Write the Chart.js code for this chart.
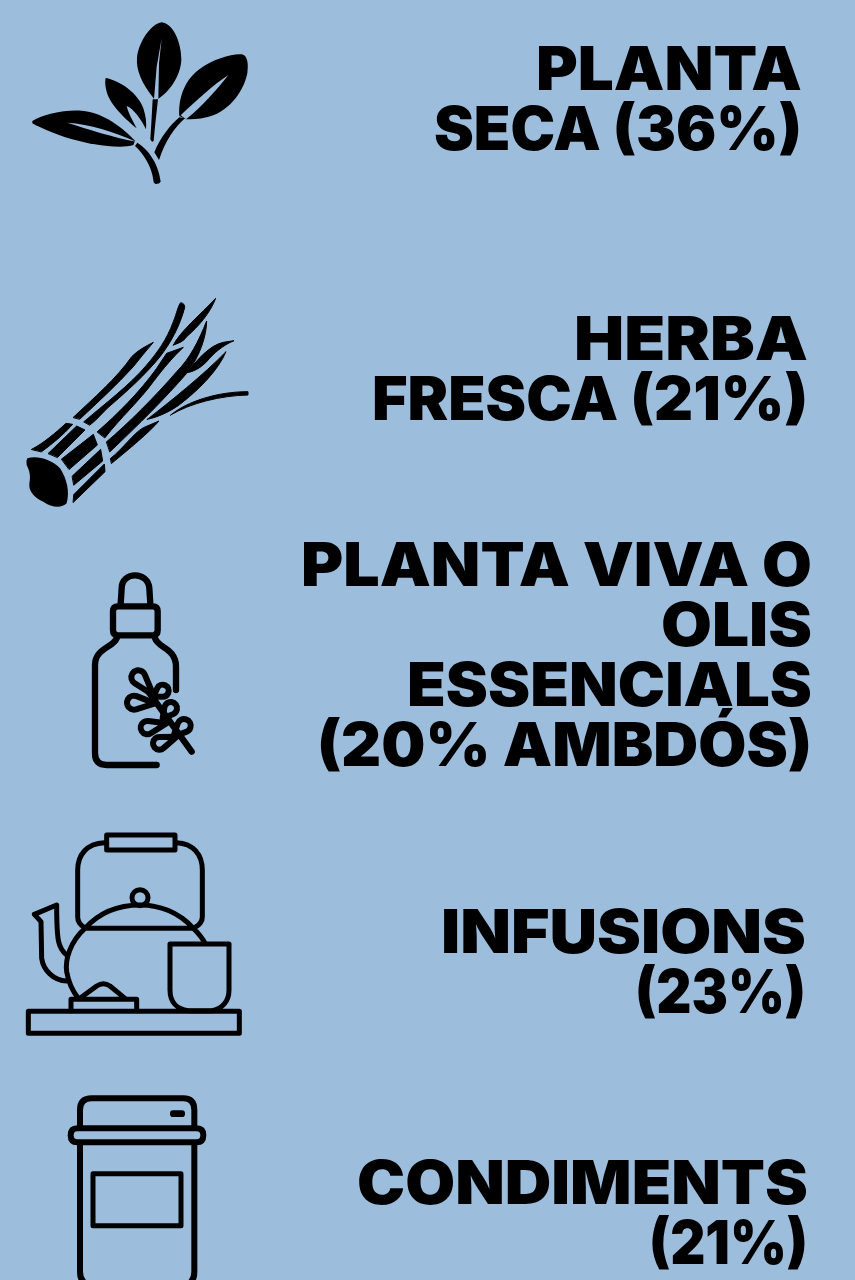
<!DOCTYPE html>
<html lang="ca">
<head>
  <meta charset="UTF-8" />
  <title>Formats de planta</title>
  <script src="https://cdn.jsdelivr.net/npm/chart.js"></script>
  <style>
    html, body { margin: 0; padding: 0; background: #9dbddd; overflow: hidden; }
    canvas { display: block; }
  </style>
</head>
<body>
  <canvas id="usesChart" width="855" height="1280"></canvas>

  <script>
  // data
  const categories = ['Planta seca', 'Herba fresca', 'Planta viva o olis essencials', 'Infusions', 'Condiments'];
  const shares = [36, 21, 20, 23, 21];
  const labelLines = [
    ['PLANTA', 'SECA (36%)'],
    ['HERBA', 'FRESCA (21%)'],
    ['PLANTA VIVA O', 'OLIS', 'ESSENCIALS', '(20% AMBDÓS)'],
    ['INFUSIONS', '(23%)'],
    ['CONDIMENTS', '(21%)']
  ];

  // layout, per row. Montserrat is not installed so each line is stretched to its measured width
  const rowRight = [802, 808, 812, 806, 808];
  const rowBaseline = [-38, -24, -54, 57, 52];
  const lineWidths = [
    [266, 368],
    [234, 436],
    [511, 151, 405, 495],
    [365, 171],
    [451, 159]
  ];
  const ICON_X = 137;
  const LINE_H = 60;

  function rowCentre(i) { return 128 + 256 * i; }

  // each icon is drawn in zoomed reference coords, (ox, oy) is the zoom origin
  function iconCanvas(i, ox, oy, draw) {
    const c = document.createElement('canvas');
    c.width = 320;
    c.height = 420;
    const g = c.getContext('2d');
    g.translate(160 - ICON_X + ox, 210 - rowCentre(i) + oy);
    g.scale(1 / 3, 1 / 3);
    g.fillStyle = '#000';
    g.strokeStyle = '#000';
    g.lineCap = 'round';
    g.lineJoin = 'round';
    draw(g);
    return c;
  }

  function fillAll(g, paths) { paths.forEach(p => g.fill(new Path2D(p))); }
  function strokeAll(g, paths) { paths.forEach(p => g.stroke(new Path2D(p))); }

  function teardrop(g, bx, by, cx, cy, r) {
    const a = Math.atan2(by - cy, bx - cx);
    const h = Math.acos(r / Math.hypot(bx - cx, by - cy));
    g.beginPath();
    g.moveTo(bx, by);
    g.arc(cx, cy, r, a + h, a - h);
    g.closePath();
    g.stroke();
  }

  const icons = [
    iconCanvas(0, 10, 10, g => {
      fillAll(g, [
        'M432,266 C395,220 378,180 381,145 C385,95 425,40 455,37 C490,40 515,100 514,150 C512,195 480,245 445,266 Z',
        'M508,318 C505,270 520,215 565,180 C610,145 670,130 695,133 C715,137 715,165 712,190 C700,250 650,310 590,322 C565,328 545,328 528,328 Z',
        'M287,204 C330,212 385,250 400,295 C408,320 410,340 408,358 C395,330 370,295 350,288 C355,310 370,335 380,355 C350,330 300,285 290,245 C285,225 285,215 287,204 Z',
        'M67,333 C100,312 165,298 215,302 C280,308 335,350 375,392 L370,405 C360,408 345,410 330,410 C230,410 120,370 67,340 Z'
      ]);
      g.globalCompositeOperation = 'destination-out';
      fillAll(g, [
        'M455,85 L447,160 L445,268 L432,268 L440,170 Z',
        'M655,195 C610,225 560,270 512,316 L528,328 C575,290 620,240 655,195 Z',
        'M172,338 C240,342 310,365 378,395 C310,382 235,358 172,338 Z'
      ]);
      g.globalCompositeOperation = 'source-over';
      fillAll(g, [
        'M428,268 L444,268 L436,340 L431,392 Q426,400 421,388 L424,340 Z',
        'M508,322 L525,325 C495,350 465,395 447,450 L433,427 C450,385 480,345 508,322 Z',
        'M382,398 C410,415 445,455 452,515 Q448,522 438,522 Q430,520 430,510 C425,470 400,430 375,408 Z'
      ]);
    }),
    iconCanvas(1, 10, 285, g => {
      const blades = [
        'M65,493 C100,475 135,445 168,415 L188,418 C160,450 125,478 95,500 Z',
        'M115,505 L200,423 L225,435 L143,517 Z',
        'M155,522 L250,448 L262,480 L178,553 Z',
        'M187,573 L272,493 L278,528 L192,600 Z',
        'M192,628 L283,537 L285,560 L190,652 Z',
        'M190,397 C250,340 320,280 365,215 C385,195 405,185 430,172 C410,195 390,220 370,245 C320,300 260,355 210,402 Z',
        'M222,410 C280,360 360,300 410,240 C440,205 470,165 490,110 C500,85 505,60 512,53 Q525,55 524,68 C510,120 485,170 450,215 C410,265 350,320 297,365 C280,380 260,405 240,420 Z',
        'M262,440 C320,390 390,320 440,250 L470,205 L520,187 C490,215 460,250 430,290 C390,345 330,400 285,458 Z',
        'M490,180 C510,140 570,90 617,40 C600,85 565,125 530,155 C520,170 505,175 490,180 Z',
        'M290,470 C350,420 440,330 500,260 C540,220 565,170 590,108 C590,150 570,215 530,265 C470,335 385,420 300,500 Z',
        'M532,263 C560,225 600,180 640,172 L672,167 C640,180 610,205 590,230 C570,250 550,260 532,263 Z',
        'M412,403 C480,350 580,270 648,200 C625,255 570,310 520,350 C490,375 450,395 412,403 Z',
        'M482,390 C530,350 620,320 714,320 L714,330 C630,332 540,355 482,390 Z',
        'M302,520 C340,490 370,445 400,428 L447,408 C420,440 360,490 305,535 Z'
      ];
      fillAll(g, blades);
      g.lineWidth = 3;
      strokeAll(g, blades);
      fillAll(g, ['M52,520 C80,512 120,520 150,550 C170,580 180,620 170,655 C155,670 125,668 100,650 C75,640 55,620 58,595 C62,575 60,560 50,540 Q47,528 52,520 Z']);
    }),
    iconCanvas(2, 70, 560, g => {
      g.lineWidth = 19;
      strokeAll(g, [
        'M152,132 L155,85 C155,33 235,33 238,85 L241,132',
        'M144,139 L248,139 Q263,139 263,154 L263,211 Q263,226 248,226 L144,226 Q129,226 129,211 L129,154 Q129,139 144,139 Z',
        'M140,235 C130,262 75,265 75,315 L75,580 Q75,615 110,615 L260,615',
        'M255,235 C265,265 318,265 318,320 L318,390',
        'M365,575 L235,395'
      ]);
      g.lineWidth = 18;
      teardrop(g, 250, 405, 205, 352, 21);
      teardrop(g, 250, 410, 278, 392, 18);
      teardrop(g, 255, 430, 192, 428, 21);
      teardrop(g, 278, 475, 302, 445, 19);
      teardrop(g, 290, 490, 232, 503, 20);
      teardrop(g, 310, 530, 342, 497, 20);
      teardrop(g, 320, 530, 268, 550, 19);
    }),
    iconCanvas(3, 15, 820, g => {
      g.lineWidth = 15;
      strokeAll(g, [
        'M275,45 L480,45 L480,90 L275,90 Z',
        'M268,68 C215,70 188,105 188,150 L188,290 Q188,310 208,322',
        'M485,68 C535,70 562,105 562,150 L562,290 Q562,310 540,322',
        'M210,325 C260,270 320,255 375,255 C430,255 490,275 535,325 Z',
        'M210,325 C165,365 150,420 155,455 C160,485 170,510 190,535',
        'M535,325 C550,340 560,350 570,370',
        'M155,405 C130,385 125,365 125,255 L58,283 L78,305 L80,415 C85,450 115,482 155,483',
        'M465,372 L642,372 L642,510 C642,545 620,568 590,572 L520,572 C485,568 465,545 465,510 Z',
        'M40,574 L673,574 L673,640 L40,640 Z',
        'M168,572 L168,538 L365,538 L365,572',
        'M195,535 L245,498 Q265,485 285,498 L330,535'
      ]);
      g.beginPath();
      g.arc(375, 233, 24, 0, Math.PI * 2);
      g.stroke();
    }),
    iconCanvas(4, 55, 1085, g => {
      g.lineWidth = 18;
      strokeAll(g, [
        'M75,125 L75,75 Q75,40 110,40 L385,40 Q418,40 418,75 L418,125',
        'M67,130 L425,130 Q445,130 445,151 Q445,172 425,172 L67,172 Q47,172 47,151 Q47,130 67,130 Z',
        'M75,175 L75,560 Q75,600 115,600 L380,600 Q418,600 418,560 L418,175'
      ]);
      g.lineWidth = 15;
      g.stroke(new Path2D('M114,266 L378,266 L378,422 L114,422 Z'));
      g.fill(new Path2D('M354,76 L381,76 Q390,76 390,86 Q390,96 381,96 L354,96 Q345,96 345,86 Q345,76 354,76 Z'));
    })
  ];

  const rowLabels = {
    id: 'rowLabels',
    afterDatasetsDraw(chart) {
      const { ctx, scales } = chart;
      ctx.save();
      ctx.fillStyle = '#000';
      ctx.font = '900 60px Inter, sans-serif';
      ctx.textAlign = 'right';
      ctx.textBaseline = 'alphabetic';
      categories.forEach((cat, i) => {
        const y = scales.y.getPixelForValue(cat) + rowBaseline[i];
        labelLines[i].forEach((line, k) => {
          const sx = lineWidths[i][k] / ctx.measureText(line).width;
          ctx.save();
          ctx.translate(rowRight[i], y + k * LINE_H);
          ctx.scale(sx, 1);
          ctx.fillText(line, 0, 0);
          ctx.restore();
        });
      });
      ctx.restore();
    }
  };

  new Chart(document.getElementById('usesChart').getContext('2d'), {
    type: 'scatter',
    data: {
      datasets: [{
        label: 'Share of uses (%)',
        data: categories.map(cat => ({ x: ICON_X, y: cat })),
        pointStyle: icons,
        pointRadius: 20,
        pointHoverRadius: 20
      }]
    },
    options: {
      responsive: false,
      animation: false,
      events: [],
      layout: { padding: 0, autoPadding: false },
      plugins: { legend: { display: false }, tooltip: { enabled: false } },
      scales: {
        x: { type: 'linear', min: 0, max: 855, display: false },
        y: { type: 'category', labels: categories, offset: true, display: false }
      }
    },
    plugins: [rowLabels]
  });
  </script>
</body>
</html>
